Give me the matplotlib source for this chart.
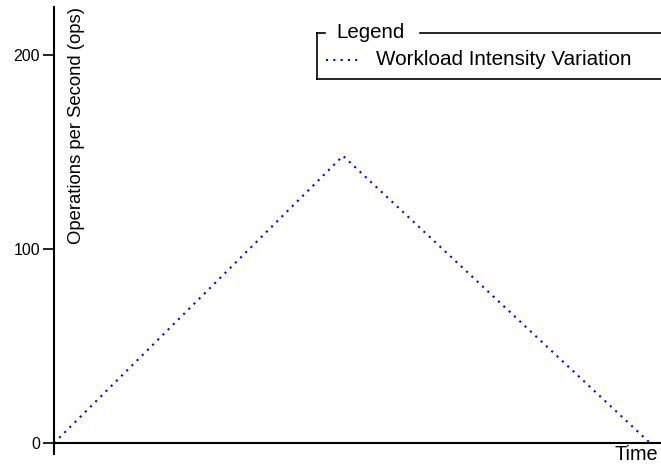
import matplotlib.pyplot as plt
from matplotlib.lines import Line2D

# data
time = [0, 48.5, 100]
ops = [0, 148, 0]
yticks = [0, 100, 200]

plt.rcParams["font.family"] = ["Liberation Sans", "DejaVu Sans"]

W, H = 661, 465
fig = plt.figure(figsize=(W / 100, H / 100), dpi=100)

# axes box in pixels (from the top-left of the picture)
left, right, top, bottom = 54, 661, 7, 454
ax = fig.add_axes([left / W, 1 - bottom / H, (right - left) / W, (bottom - top) / H])

zero_px = 443
px_per_unit = 1.94
ax.set_ylim(-(bottom - zero_px) / px_per_unit, (zero_px - top) / px_per_unit)
ax.set_xlim(0, 100 * (right - left) / (650 - left))

ax.plot(time, ops, color="blue", linestyle=(0, (1, 2.5)), linewidth=1.5,
        dash_capstyle="butt", clip_on=False)

for s in ["top", "right"]:
    ax.spines[s].set_visible(False)
ax.spines["bottom"].set_position(("data", 0))
ax.spines["left"].set_linewidth(1.5)
ax.spines["bottom"].set_linewidth(1.5)

ax.set_yticks(yticks)
ax.set_yticklabels([str(v) for v in yticks])
ax.tick_params(axis="y", direction="out", length=8, width=1.2, labelsize=11.5, pad=2)
ax.set_xticks([])

ax.text(0.996, -1, "Time", transform=ax.get_yaxis_transform(), ha="right", va="top",
        fontsize=14.3)
ax.text(0.023, 1.0, "Operations per Second (ops)", transform=ax.transAxes,
        rotation=90, ha="left", va="top", fontsize=13.3)

# hand-drawn legend frame
def fx(px):
    return px / W


def fy(py):
    return 1 - py / H


frame = dict(color="black", linewidth=1.2, transform=fig.transFigure)
fig.add_artist(Line2D([fx(317), fx(317)], [fy(33), fy(79)], **frame))
fig.add_artist(Line2D([fx(317), fx(325)], [fy(33), fy(33)], **frame))
fig.add_artist(Line2D([fx(420), fx(661)], [fy(33), fy(33)], **frame))
fig.add_artist(Line2D([fx(317), fx(661)], [fy(79), fy(79)], **frame))
fig.text(fx(336), fy(32), "Legend", ha="left", va="center", fontsize=14.8)
fig.add_artist(Line2D([fx(326), fx(362)], [fy(60), fy(60)], color="blue",
                      linestyle=(0, (1, 2.5)), linewidth=1.5,
                      transform=fig.transFigure))
fig.text(fx(376), fy(59), "Workload Intensity Variation", ha="left", va="center",
         fontsize=14.9)

fig.savefig("out.png", dpi=100)
